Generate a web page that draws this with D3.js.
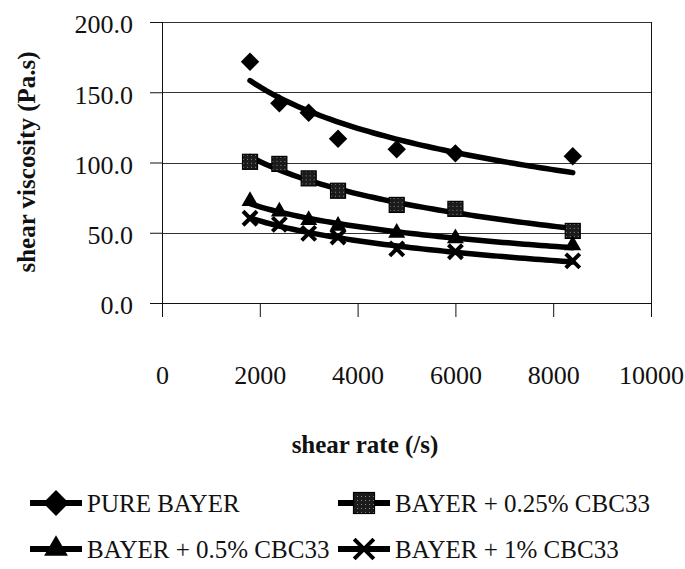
<!DOCTYPE html>
<html>
<head>
<script src="https://d3js.org/d3.v7.min.js"></script>
<style>
  body { margin: 0; background: #fff; }
  text { font-family: "Liberation Serif", "Times New Roman", serif; fill: #111; }
  .grid { stroke: #333; stroke-width: 1px; shape-rendering: crispEdges; }
  .axis { stroke: #111; stroke-width: 1px; shape-rendering: crispEdges; }
  .trend { fill: none; stroke: #000; stroke-width: 5.5px; stroke-linecap: round; }
</style>
</head>
<body>
<svg id="chart" width="685" height="569"></svg>
<script>
// shear rate values (x) shared by all series
const shearRate = [1800, 2400, 3000, 3600, 4800, 6000, 8400];
// shear viscosity (Pa.s)
const pureBayer = [171.7, 142.1, 135.4, 116.9, 109.4, 106.5, 104.4];
const bayer025 = [100.5, 99.0, 88.7, 79.9, 69.8, 67.0, 51.3];
const bayer05 = [72.5, 65.0, 59.0, 55.0, 50.0, 46.0, 41.0];
const bayer1 = [60.3, 56.0, 49.5, 47.0, 38.5, 36.5, 30.0];
const seriesNames = ["PURE BAYER", "BAYER + 0.25% CBC33", "BAYER + 0.5% CBC33", "BAYER + 1% CBC33"];
const xTicks = [0, 2000, 4000, 6000, 8000, 10000];
const yTicks = [0, 50, 100, 150, 200];

const svg = d3.select("#chart");
const plot = { left: 162, right: 651, top: 22, bottom: 303 };

const x = d3.scaleLinear().domain([0, 10000]).range([plot.left, plot.right]);
const y = d3.scaleLinear().domain([0, 200]).range([plot.bottom, plot.top]);

// dotted fill for the square markers
const defs = svg.append("defs");
const pat = defs.append("pattern").attr("id", "dots")
  .attr("width", 4).attr("height", 4).attr("patternUnits", "userSpaceOnUse");
pat.append("rect").attr("width", 4).attr("height", 4).attr("fill", "#1b1b1b");
pat.append("rect").attr("x", 1).attr("y", 1).attr("width", 1).attr("height", 1).attr("fill", "#888");

// gridlines
svg.selectAll("line.grid").data(yTicks.filter(d => d > 0))
  .join("line").attr("class", "grid")
  .attr("x1", plot.left).attr("x2", plot.right)
  .attr("y1", d => Math.round(y(d)) + 0.5).attr("y2", d => Math.round(y(d)) + 0.5);

// y axis (ticks to the left)
const yAxis = svg.append("g").attr("transform", `translate(${plot.left},0)`)
  .call(d3.axisLeft(y).tickValues(yTicks).tickSize(12).tickFormat(d3.format(".1f")));
yAxis.select(".domain").remove();
yAxis.selectAll("text").attr("x", -29).attr("dy", "0.42em")
  .style("font-size", "26px").style("font-family", "Liberation Serif, serif");
svg.append("line").attr("class", "axis")
  .attr("x1", plot.left + 0.5).attr("x2", plot.left + 0.5)
  .attr("y1", plot.top).attr("y2", plot.bottom + 14);

// x axis: ticks hang down, labels sit far below
const xAxis = svg.append("g").attr("transform", `translate(0,${plot.bottom})`)
  .call(d3.axisBottom(x).tickValues(xTicks).tickSize(14).tickFormat(d3.format("d")));
xAxis.select(".domain").remove();
xAxis.selectAll("text").attr("y", 81).attr("dy", 0)
  .style("font-size", "26px").style("font-family", "Liberation Serif, serif");
svg.append("line").attr("class", "axis")
  .attr("x1", plot.left - 12).attr("x2", plot.right)
  .attr("y1", plot.bottom + 0.5).attr("y2", plot.bottom + 0.5);
// right border of the plot area
svg.append("line").attr("class", "axis")
  .attr("x1", plot.right + 0.5).attr("x2", plot.right + 0.5)
  .attr("y1", plot.top).attr("y2", plot.bottom);
svg.selectAll(".tick line").attr("stroke", "#111");

// axis titles
svg.append("text").attr("x", 365).attr("y", 453)
  .attr("text-anchor", "middle").style("font-size", "25px").style("font-weight", "bold")
  .text("shear rate (/s)");
svg.append("text").attr("transform", "translate(35,162) rotate(-90)")
  .attr("text-anchor", "middle").style("font-size", "25px").style("font-weight", "bold")
  .text("shear viscosity (Pa.s)");

// logarithmic trendline, least squares on ln(x)
function logFit(xs, ys) {
  const lx = xs.map(Math.log);
  const mx = d3.mean(lx), my = d3.mean(ys);
  const b = d3.sum(lx, (v, i) => (v - mx) * (ys[i] - my)) / d3.sum(lx, v => (v - mx) ** 2);
  const a = my - b * mx;
  return v => a + b * Math.log(v);
}

const series = [pureBayer, bayer025, bayer05, bayer1];
const line = d3.line().x(d => x(d[0])).y(d => y(d[1]));
const xMin = d3.min(shearRate), xMax = d3.max(shearRate);
const samples = d3.range(xMin, xMax + 1, (xMax - xMin) / 60);

series.forEach(vals => {
  const f = logFit(shearRate, vals);
  svg.append("path").attr("class", "trend")
    .attr("d", line(samples.map(s => [s, f(s)])));
});

// marker drawing
function drawMarker(g, k, s) {
  if (k === 0) {
    g.append("path").attr("d", d3.symbol(d3.symbolSquare, 170 * s * s)())
      .attr("transform", "rotate(45)").attr("fill", "#000");
  } else if (k === 1) {
    const w = 15 * s;
    g.append("rect").attr("x", -w / 2).attr("y", -w / 2).attr("width", w).attr("height", w)
      .attr("fill", "url(#dots)").attr("stroke", "#000").attr("stroke-width", 1.2);
  } else if (k === 2) {
    g.append("path").attr("d", d3.symbol(d3.symbolTriangle, 125 * s * s)())
      .attr("fill", "#000");
  } else {
    const r = 7 * s;
    g.append("path").attr("d", `M${-r},${-r}L${r},${r}M${-r},${r}L${r},${-r}`)
      .attr("stroke", "#000").attr("stroke-width", 4).attr("fill", "none");
  }
}

series.forEach((vals, k) => {
  svg.append("g").selectAll("g").data(vals).join("g")
    .attr("transform", (d, i) => `translate(${x(shearRate[i])},${y(d)})`)
    .each(function () { drawMarker(d3.select(this), k, 1); });
});

// legend
const legendPos = [[56, 503], [364, 503], [56, 549], [364, 549]];
seriesNames.forEach((name, k) => {
  const [lx, ly] = legendPos[k];
  const g = svg.append("g").attr("transform", `translate(${lx},${ly})`);
  g.append("line").attr("x1", -26).attr("x2", 26).attr("y1", 0).attr("y2", 0)
    .attr("stroke", "#000").attr("stroke-width", 6);
  drawMarker(g, k, 1.4);
  g.append("text").attr("x", 31).attr("y", 9).style("font-size", "25px").text(name);
});
</script>
</body>
</html>
